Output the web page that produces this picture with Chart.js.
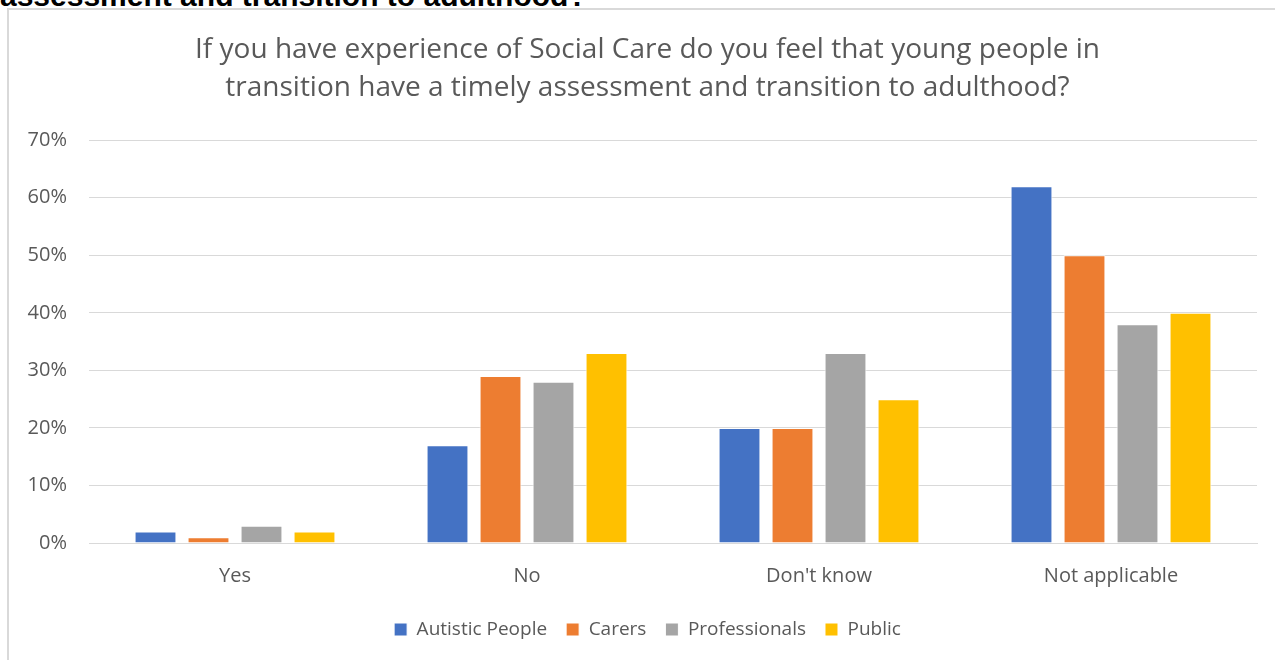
<!DOCTYPE html>
<html>
<head>
<meta charset="utf-8">
<script src="https://cdn.jsdelivr.net/npm/chart.js@4/dist/chart.umd.min.js"></script>
<style>
  html, body { margin: 0; padding: 0; background: #fff; overflow: hidden; width: 1275px; height: 660px; }
  #heading {
    position: absolute; left: 0; top: -19px; margin: 0;
    font: bold 30px "Liberation Sans", Arial, sans-serif; line-height: 30px; color: #000;
    white-space: nowrap;
  }
  #frame {
    position: absolute; left: 7px; top: 8px; width: 1290px; height: 670px;
    border: 2px solid #d9d9d9; box-sizing: border-box;
  }
  #wrap { position: absolute; left: 0; top: 0; width: 1277px; height: 650px; }
</style>
</head>
<body>
<div id="heading">assessment and transition to adulthood?</div>
<div id="frame">
  <div id="wrap"><canvas id="chart"></canvas></div>
</div>
<script>
// ===== DATA =====
const categories = ["Yes", "No", "Don't know", "Not applicable"];
const autisticPeople = [2, 17, 20, 62];
const carers = [1, 29, 20, 50];
const professionals = [3, 28, 33, 38];
const publicVals = [2, 33, 25, 40];
const titleLines = [
  "If you have experience of Social Care do you feel that young people in",
  "transition have a timely assessment and transition to adulthood?"
];

const textColor = "#595959";
const fontFamily = "'Open Sans', 'Noto Sans', sans-serif";

function series(label, data, color) {
  return {
    label: label,
    data: data,
    backgroundColor: color,
    borderColor: "#ffffff",
    borderWidth: 1,
    categoryPercentage: 0.726,
    barPercentage: 0.79
  };
}

const ctx = document.getElementById("chart").getContext("2d");

new Chart(ctx, {
  type: "bar",
  data: {
    labels: categories,
    datasets: [
      series("Autistic People", autisticPeople, "#4472C4"),
      series("Carers", carers, "#ED7D31"),
      series("Professionals", professionals, "#A5A5A5"),
      series("Public", publicVals, "#FFC000")
    ]
  },
  options: {
    responsive: true,
    maintainAspectRatio: false,
    animation: false,
    layout: {
      padding: { left: 0, right: 0, top: 0, bottom: 11 }
    },
    plugins: {
      title: {
        display: true,
        text: titleLines,
        color: textColor,
        font: { family: fontFamily, size: 28, weight: "normal", lineHeight: 1.36 },
        padding: { top: 21, bottom: 33 }
      },
      legend: {
        position: "bottom",
        labels: {
          color: textColor,
          boxWidth: 13,
          boxHeight: 13,
          padding: 19,
          font: { family: fontFamily, size: 19, lineHeight: 1 }
        }
      },
      tooltip: { enabled: false }
    },
    scales: {
      x: {
        grid: { display: false },
        border: { color: "#d9d9d9", width: 1 },
        ticks: {
          color: textColor,
          padding: 13,
          font: { family: fontFamily, size: 20 }
        }
      },
      y: {
        min: 0,
        max: 70,
        grid: { color: "#d9d9d9", lineWidth: 1, drawTicks: false },
        border: { display: false },
        afterFit: scale => { scale.width = 80; },
        ticks: {
          stepSize: 10,
          color: textColor,
          padding: 22,
          font: { family: fontFamily, size: 20 },
          callback: value => value + "%"
        }
      },
      // empty right-hand axis that only keeps the plot clear of the right edge
      yRight: {
        position: "right",
        min: 0,
        max: 70,
        grid: { display: false, drawOnChartArea: false },
        border: { display: false },
        ticks: { display: false },
        afterFit: scale => { scale.width = 29; }
      }
    }
  }
});
</script>
</body>
</html>
